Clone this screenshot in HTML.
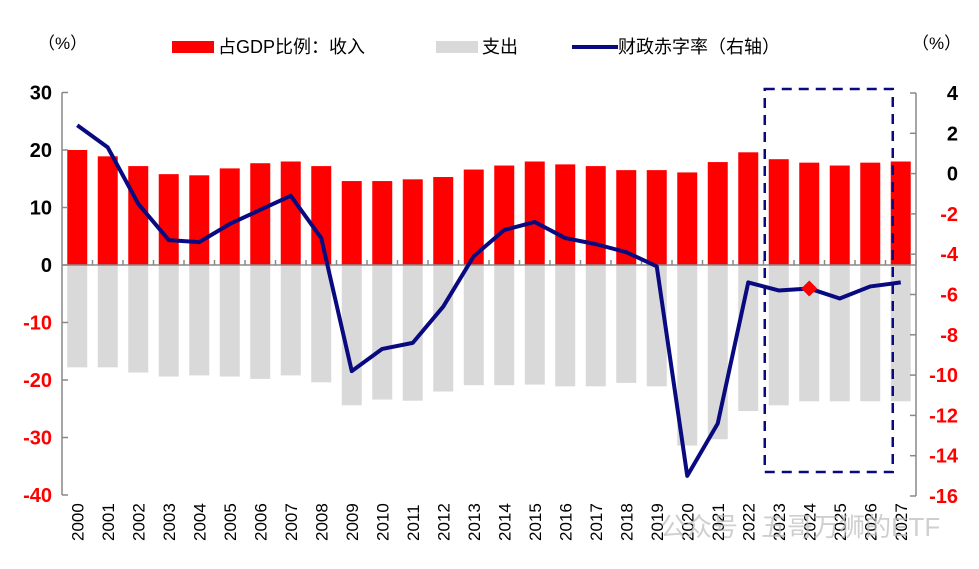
<!DOCTYPE html>
<html><head><meta charset="utf-8"><style>
body{margin:0;background:#fff;}
svg{display:block;font-family:"Liberation Sans","Noto Sans CJK SC",sans-serif;}
</style></head><body>
<svg id="c" width="979" height="569" viewBox="0 0 979 569">
<g>
<text x="38" y="49" font-size="17">（%）</text>
<text x="912" y="49" font-size="17">（%）</text>
<rect x="172" y="41" width="42" height="12" fill="#ff0000"/>
<text x="218" y="53" font-size="18">占GDP比例：收入</text>
<rect x="436" y="41" width="42" height="12" fill="#d9d9d9"/>
<text x="482" y="53" font-size="18">支出</text>
<line x1="572" y1="47" x2="618" y2="47" stroke="#0a0a80" stroke-width="4"/>
<text x="618" y="53" font-size="18">财政赤字率（右轴）</text>
</g>
<g id="bars"></g><g id="axes"></g><g id="line"></g>
<text x="660" y="536" font-size="26" fill="#bbb" opacity="0.7">公众号 · 五哥万狮的ETF</text>
</svg>
<script>
const years=[];for(let y=2000;y<=2027;y++)years.push(String(y));
const revenue=[20,18.9,17.2,15.8,15.6,16.8,17.7,18.0,17.2,14.6,14.6,14.9,15.3,16.6,17.3,18.0,17.5,17.2,16.5,16.5,16.1,17.9,19.6,18.4,17.8,17.3,17.8,18.0];
const spending=[-17.8,-17.8,-18.7,-19.4,-19.2,-19.4,-19.8,-19.2,-20.4,-24.4,-23.4,-23.6,-22.0,-20.9,-20.9,-20.8,-21.1,-21.1,-20.5,-21.1,-31.4,-30.3,-25.4,-24.4,-23.7,-23.7,-23.7,-23.7];
const deficit=[2.4,1.3,-1.5,-3.3,-3.4,-2.5,-1.8,-1.1,-3.2,-9.8,-8.7,-8.4,-6.6,-4.1,-2.8,-2.4,-3.2,-3.5,-3.9,-4.6,-15.0,-12.4,-5.4,-5.8,-5.7,-6.2,-5.6,-5.4];
const leftTicks=[30,20,10,0,-10,-20,-30,-40];
const rightTicks=[4,2,0,-2,-4,-6,-8,-10,-12,-14,-16];
const highlightIndex=24;
const X0=62,X1=916,slot=(X1-X0)/years.length;
const xc=i=>X0+slot*(i+0.5);
const yL=v=>265-v*5.75;
const yR=v=>93+(4-v)*20.15;
const NS="http://www.w3.org/2000/svg";
function mk(t,a,p){const e=document.createElementNS(NS,t);for(const k in a)e.setAttribute(k,a[k]);document.getElementById(p).appendChild(e);return e;}
const bw=20;
revenue.forEach((v,i)=>{const e=mk('rect',{x:xc(i)-bw/2,y:yL(v),width:bw,height:yL(0)-yL(v),fill:'#ff0000'},'bars');

});
spending.forEach((v,i)=>{const e=mk('rect',{x:xc(i)-bw/2,y:yL(0),width:bw,height:yL(v)-yL(0),fill:'#d9d9d9'},'bars');

});
let e=mk('line',{x1:X0,y1:yL(30),x2:X0,y2:yL(-40),stroke:'#888','stroke-width':1.5},'axes');


e=mk('line',{x1:X0,y1:yL(0),x2:X1,y2:yL(0),stroke:'#888','stroke-width':1.5},'axes');


e=mk('line',{x1:X1,y1:yR(4),x2:X1,y2:yR(-16),stroke:'#888','stroke-width':1.5},'axes');


leftTicks.forEach(v=>{mk('line',{x1:X0,y1:yL(v),x2:X0+6,y2:yL(v),stroke:'#888','stroke-width':1.5},'axes');
const t=mk('text',{x:X0-10,y:yL(v)+7,'text-anchor':'end','font-size':20,'font-weight':'bold',fill:v<0?'#ff0000':'#000'},'axes');t.textContent=v;

});
rightTicks.forEach(v=>{mk('line',{x1:X1,y1:yR(v),x2:X1-6,y2:yR(v),stroke:'#888','stroke-width':1.5},'axes');
const t=mk('text',{x:X1+42,y:yR(v)+7,'text-anchor':'end','font-size':20,'font-weight':'bold',fill:v<0?'#ff0000':'#000'},'axes');t.textContent=v;

});
years.forEach((y,i)=>{mk('line',{x1:X0+slot*(i+1),y1:yL(0),x2:X0+slot*(i+1),y2:yL(0)-5,stroke:'#888','stroke-width':1.5},'axes');
const t=mk('text',{x:0,y:0,'font-size':17,transform:`translate(${xc(i)+6},541) rotate(-90)`},'axes');t.textContent=y;

});
e=mk('polyline',{points:deficit.map((v,i)=>xc(i)+','+yR(v)).join(' '),fill:'none',stroke:'#0a0a80','stroke-width':4,'stroke-linejoin':'round'},'line');


const hx=xc(highlightIndex),hy=yR(deficit[highlightIndex]);
e=mk('polygon',{points:`${hx},${hy-8} ${hx+8},${hy} ${hx},${hy+8} ${hx-8},${hy}`,fill:'#ff0000'},'line');


e=mk('rect',{x:xc(23)-14,y:89,width:xc(27)-xc(23)+6,height:383,fill:'none',stroke:'#0a0a80','stroke-width':2.5,'stroke-dasharray':'10 7'},'line');


</script>
</body></html>
